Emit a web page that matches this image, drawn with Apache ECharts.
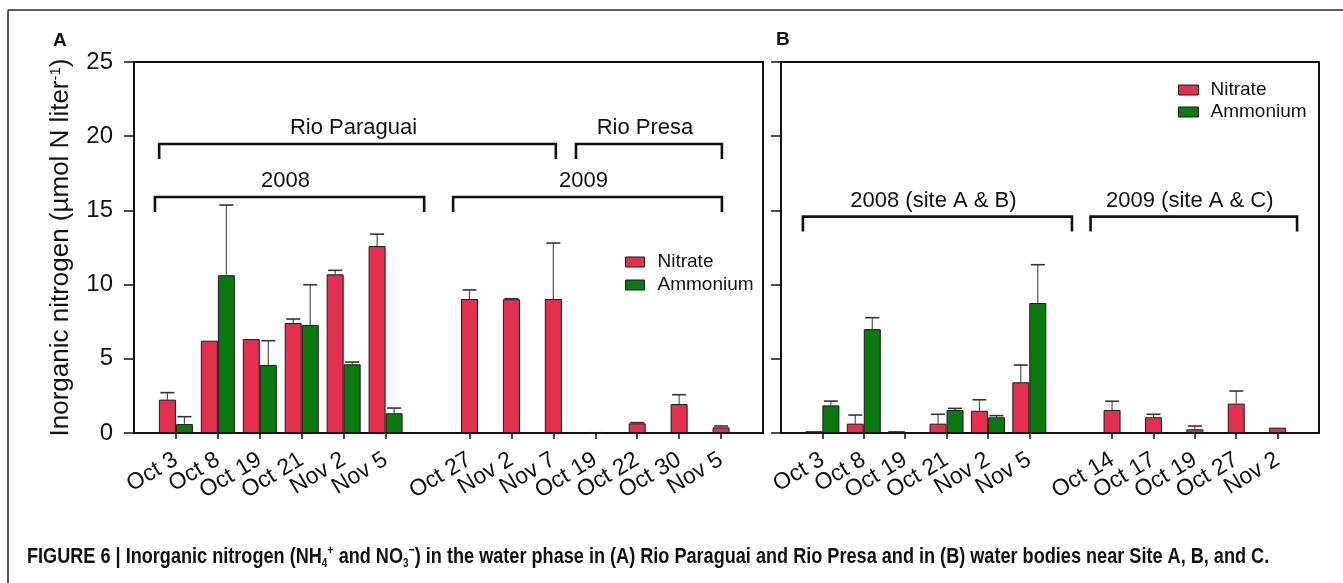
<!DOCTYPE html>
<html>
<head>
<meta charset="utf-8">
<script src="https://cdn.jsdelivr.net/npm/echarts@6/dist/echarts.min.js"></script>
<style>
html,body{margin:0;padding:0;background:#fff;}
#chart{width:1343px;height:583px;}
</style>
</head>
<body>
<div id="chart"></div>
<script>
// ---------- Panel A data ----------
const categoriesA = ['', 'Oct 3', 'Oct 8', 'Oct 19', 'Oct 21', 'Nov 2', 'Nov 5', '', 'Oct 27', 'Nov 2', 'Nov 7', 'Oct 19', 'Oct 22', 'Oct 30', 'Nov 5', ''];
const nitratePairA   = [null, 2.25, 6.22, 6.33, 7.41, 10.69, 12.6, null, null, null, null, null, null, null, null, null];
const ammoniumA      = [null, 0.6, 10.63, 4.58, 7.28, 4.63, 1.33, null, null, null, null, null, null, null, null, null];
const nitrateSoloA   = [null, null, null, null, null, null, null, null, 9.03, 9.01, 9.03, 0.07, 0.65, 1.95, 0.38, null];
const nitratePairErrA = [null, 2.72, null, null, 7.68, 10.96, 13.4, null, null, null, null, null, null, null, null, null];
const ammoniumErrA    = [null, 1.1, 15.36, 6.22, 9.99, 4.78, 1.68, null, null, null, null, null, null, null, null, null];
const nitrateSoloErrA = [null, null, null, null, null, null, null, null, 9.64, 9.05, 12.8, null, 0.7, 2.58, 0.47, null];

// ---------- Panel B data ----------
const categoriesB = ['', 'Oct 3', 'Oct 8', 'Oct 19', 'Oct 21', 'Nov 2', 'Nov 5', '', 'Oct 14', 'Oct 17', 'Oct 19', 'Oct 27', 'Nov 2', ''];
const nitratePairB   = [null, 0.12, 0.63, 0.12, 0.63, 1.5, 3.42, null, null, null, null, null, null, null];
const ammoniumB      = [null, 1.86, 7.0, null, 1.55, 1.06, 8.76, null, null, null, null, null, null, null];
const nitrateSoloB   = [null, null, null, null, null, null, null, null, 1.55, 1.06, 0.25, 1.98, 0.36, null];
const nitratePairErrB = [null, null, 1.21, null, 1.26, 2.24, 4.58, null, null, null, null, null, null, null];
const ammoniumErrB    = [null, 2.15, 7.77, null, 1.66, 1.17, 11.34, null, null, null, null, null, null, null];
const nitrateSoloErrB = [null, null, null, null, null, null, null, null, 2.14, 1.26, 0.47, 2.83, null, null];

// ---------- Annotations (brackets) ----------
const bracketLabelsA = ['Rio Paraguai', 'Rio Presa', '2008', '2009'];
const bracketFromA   = [0.6, 10.54, 0.5, 7.61];
const bracketToA     = [10.06, 14.02, 6.92, 14.02];
const bracketLevelA  = [19.47, 19.47, 15.9, 15.9];
const bracketLabelsB = ['2008 (site A & B)', '2009 (site A & C)'];
const bracketFromB   = [0.53, 7.48];
const bracketToB     = [7.03, 12.47];
const bracketLevelB  = [14.58, 14.58];

const yTicks = [0, 5, 10, 15, 20, 25];
const seriesNames = ['Nitrate', 'Ammonium'];
const captionText = 'FIGURE 6 | Inorganic nitrogen (NH4+ and NO3−) in the water phase in (A) Rio Paraguai and Rio Presa and in (B) water bodies near Site A, B, and C.';

// ---------- styling ----------
const FONT = '"Liberation Sans", Arial, Helvetica, sans-serif';
const CAPFONT = '"Liberation Sans Narrow", "Liberation Sans", Arial, sans-serif';
const RED = '#E2304E';
const GREEN = '#0A7A10';
const BAR_W = 17;

const chart = echarts.init(document.getElementById('chart'), null, {renderer: 'canvas'});

function errData(tops, uppers, side) {
  const out = [];
  tops.forEach((t, i) => {
    if (t != null && uppers[i] != null) out.push([i, t, uppers[i], side]);
  });
  return out;
}

function errRender(params, api) {
  const idx = api.value(0);
  const top = api.value(1);
  const up = api.value(2);
  const side = api.value(3);
  const pTop = api.coord([idx, top]);
  const pUp = api.coord([idx, up]);
  const x = pTop[0] + side * BAR_W / 2;
  return {
    type: 'group',
    children: [
      {type: 'line', shape: {x1: x, y1: pTop[1], x2: x, y2: pUp[1]}, style: {stroke: '#555', lineWidth: 1.2}},
      {type: 'line', shape: {x1: x - 7, y1: pUp[1], x2: x + 7, y2: pUp[1]}, style: {stroke: '#333', lineWidth: 1.6}}
    ]
  };
}

// category axis coords are integer-snapped, so interpolate between neighbouring categories
function xAt(api, v, y) {
  const i0 = Math.floor(v);
  const f = v - i0;
  const p0 = api.coord([i0, y]);
  const p1 = api.coord([i0 + 1, y]);
  return p0[0] + f * (p1[0] - p0[0]);
}

function bracketRender(labels, from, to, level) {
  return function (params, api) {
    const i = params.dataIndex;
    const x0 = xAt(api, from[i], level[i]);
    const x1 = xAt(api, to[i], level[i]);
    const y = api.coord([0, level[i]])[1];
    const yd = api.coord([0, level[i] - 1.0])[1];
    return {
      type: 'group',
      children: [
        {type: 'polyline', shape: {points: [[x0, yd], [x0, y], [x1, y], [x1, yd]]},
         style: {stroke: '#111', lineWidth: 2.6, fill: null}},
        {type: 'text', x: (x0 + x1) / 2 - 4, y: y - 16,
         style: {text: labels[i], fill: '#111', fontSize: 22, fontFamily: FONT, align: 'center', verticalAlign: 'middle'}}
      ]
    };
  };
}

function xAxisCfg(cats, grid, show) {
  return {
    type: 'category', gridIndex: grid, data: cats, boundaryGap: false, show: show,
    axisLine: {show: true, lineStyle: {color: '#111', width: 2}},
    axisTick: {show: true, length: 6, inside: false, interval: (i, v) => v !== '', lineStyle: {color: '#111', width: 1.5}},
    axisLabel: {interval: 0, rotate: 31, margin: 25, fontSize: 23, fontFamily: FONT, color: '#111'},
    splitLine: {show: false}
  };
}

function yAxisCfg(grid, showLabels) {
  return {
    type: 'value', gridIndex: grid, min: 0, max: 25, interval: 5,
    axisLine: {show: true, lineStyle: {color: '#111', width: 2}},
    axisTick: {show: true, length: 10, inside: false, lineStyle: {color: '#111', width: 1.5}},
    axisLabel: {show: showLabels, margin: 21, fontSize: 24, fontFamily: FONT, color: '#111',
      formatter: v => (yTicks.indexOf(v) >= 0 ? String(v) : '')},
    splitLine: {show: false}
  };
}

const barStyle = c => ({color: c, borderColor: '#1a1a1a', borderWidth: 1});

// caption horizontal scale so the caption spans the same width as in the figure
const mctx = document.createElement('canvas').getContext('2d');
mctx.font = 'bold 22px ' + CAPFONT;
const capW = mctx.measureText(captionText).width;
const capScale = 1260 / capW;

const option = {
  animation: false,
  backgroundColor: '#fff',
  grid: [
    {left: 134, top: 62, width: 629, height: 371, show: true, borderColor: '#111', borderWidth: 2, containLabel: false},
    {left: 781, top: 62, width: 538, height: 371, show: true, borderColor: '#111', borderWidth: 2, containLabel: false}
  ],
  xAxis: [
    xAxisCfg(categoriesA, 0, true),
    xAxisCfg(categoriesA, 0, false),
    xAxisCfg(categoriesB, 1, true),
    xAxisCfg(categoriesB, 1, false)
  ],
  yAxis: [
    Object.assign(yAxisCfg(0, true), {
      name: 'Inorganic nitrogen (µmol N liter{sup|-1})',
      nameLocation: 'middle', nameGap: 60,
      nameTextStyle: {fontSize: 26, fontFamily: FONT, color: '#111',
        rich: {sup: {fontSize: 15, fontFamily: FONT, color: '#111', verticalAlign: 'top'}}}
    }),
    yAxisCfg(1, false)
  ],
  legend: [
    {left: 620, top: 247, orient: 'vertical', icon: 'rect', itemWidth: 19, itemHeight: 10, itemGap: 3,
     data: seriesNames, selectedMode: false,
     itemStyle: {borderColor: '#1a1a1a', borderWidth: 1},
     textStyle: {fontSize: 19, fontFamily: FONT, color: '#111', lineHeight: 20, padding: [0, 0, 0, 8]}},
    {left: 1173, top: 75, orient: 'vertical', icon: 'rect', itemWidth: 20, itemHeight: 10, itemGap: 2,
     data: seriesNames, selectedMode: false,
     itemStyle: {borderColor: '#1a1a1a', borderWidth: 1},
     textStyle: {fontSize: 19, fontFamily: FONT, color: '#111', lineHeight: 20, padding: [0, 0, 0, 7]}}
  ],
  series: [
    // Panel A bars
    {name: 'Nitrate', type: 'bar', xAxisIndex: 0, yAxisIndex: 0, data: nitratePairA, barWidth: BAR_W, barGap: '0%', itemStyle: barStyle(RED)},
    {name: 'Ammonium', type: 'bar', xAxisIndex: 0, yAxisIndex: 0, data: ammoniumA, barWidth: BAR_W, barGap: '0%', itemStyle: barStyle(GREEN)},
    {name: 'Nitrate', type: 'bar', xAxisIndex: 1, yAxisIndex: 0, data: nitrateSoloA, barWidth: BAR_W, itemStyle: barStyle(RED)},
    // Panel B bars
    {name: 'Nitrate', type: 'bar', xAxisIndex: 2, yAxisIndex: 1, data: nitratePairB, barWidth: BAR_W, barGap: '0%', itemStyle: barStyle(RED)},
    {name: 'Ammonium', type: 'bar', xAxisIndex: 2, yAxisIndex: 1, data: ammoniumB, barWidth: BAR_W, barGap: '0%', itemStyle: barStyle(GREEN)},
    {name: 'Nitrate', type: 'bar', xAxisIndex: 3, yAxisIndex: 1, data: nitrateSoloB, barWidth: BAR_W, itemStyle: barStyle(RED)},
    // error bars A
    {type: 'custom', xAxisIndex: 0, yAxisIndex: 0, renderItem: errRender, data: errData(nitratePairA, nitratePairErrA, -1), z: 1},
    {type: 'custom', xAxisIndex: 0, yAxisIndex: 0, renderItem: errRender, data: errData(ammoniumA, ammoniumErrA, 1), z: 1},
    {type: 'custom', xAxisIndex: 0, yAxisIndex: 0, renderItem: errRender, data: errData(nitrateSoloA, nitrateSoloErrA, 0), z: 1},
    // error bars B
    {type: 'custom', xAxisIndex: 2, yAxisIndex: 1, renderItem: errRender, data: errData(nitratePairB, nitratePairErrB, -1), z: 1},
    {type: 'custom', xAxisIndex: 2, yAxisIndex: 1, renderItem: errRender, data: errData(ammoniumB, ammoniumErrB, 1), z: 1},
    {type: 'custom', xAxisIndex: 2, yAxisIndex: 1, renderItem: errRender, data: errData(nitrateSoloB, nitrateSoloErrB, 0), z: 1},
    // brackets
    {type: 'custom', xAxisIndex: 0, yAxisIndex: 0, renderItem: bracketRender(bracketLabelsA, bracketFromA, bracketToA, bracketLevelA),
     data: bracketLabelsA.map(() => [0, 0]), silent: true, z: 3},
    {type: 'custom', xAxisIndex: 2, yAxisIndex: 1, renderItem: bracketRender(bracketLabelsB, bracketFromB, bracketToB, bracketLevelB),
     data: bracketLabelsB.map(() => [0, 0]), silent: true, z: 3}
  ],
  graphic: [
    {type: 'line', shape: {x1: 8, y1: 10, x2: 1343, y2: 10}, style: {stroke: '#222', lineWidth: 1.5}},
    {type: 'line', shape: {x1: 8, y1: 10, x2: 8, y2: 583}, style: {stroke: '#222', lineWidth: 1.5}},
    {type: 'text', x: 53, y: 41, style: {text: 'A', fontSize: 19, fontWeight: 'bold', fontFamily: FONT, fill: '#111', verticalAlign: 'middle'}},
    {type: 'text', x: 776, y: 40, style: {text: 'B', fontSize: 19, fontWeight: 'bold', fontFamily: FONT, fill: '#111', verticalAlign: 'middle'}},
    {type: 'text', x: 27, y: 557, scaleX: capScale,
     style: {
       text: '{m|FIGURE 6 | Inorganic nitrogen (NH}{sub|4}{sup|+}{m| and NO}{sub|3}{sup|−}{m|) in the water phase in (A) Rio Paraguai and Rio Presa and in (B) water bodies near Site A, B, and C.}',
       verticalAlign: 'middle',
       rich: {
         m: {fontSize: 22, fontWeight: 'bold', fontFamily: CAPFONT, fill: '#111', lineHeight: 26},
         sub: {fontSize: 12, fontWeight: 'bold', fontFamily: CAPFONT, fill: '#111', verticalAlign: 'bottom', lineHeight: 14},
         sup: {fontSize: 13, fontWeight: 'bold', fontFamily: CAPFONT, fill: '#111', verticalAlign: 'top', lineHeight: 14}
       }
     }}
  ]
};
chart.setOption(option);
</script>
</body>
</html>
